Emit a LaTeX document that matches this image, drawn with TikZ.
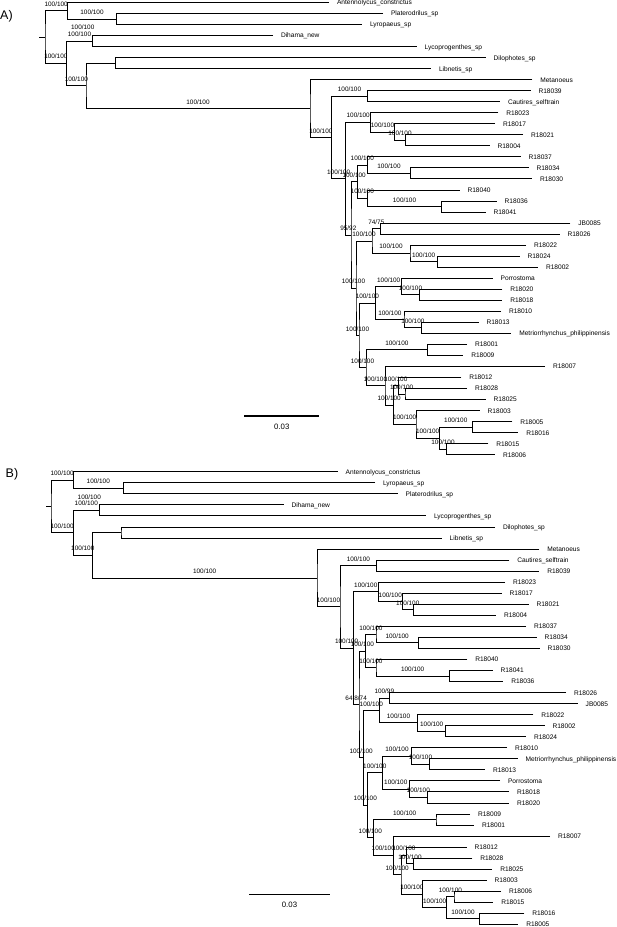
\documentclass[tikz,border=0pt]{standalone}
\usepackage{fontspec}
\setmainfont{Liberation Sans}
\usetikzlibrary{calc}
\tikzset{
 tree/.style={line width=1pt, line join=miter},
 bl/.style={font=\fontsize{6.4}{7}\selectfont, anchor=base, yshift=4.5pt, inner sep=0pt},
 tl/.style={font=\fontsize{6.6}{7}\selectfont, anchor=base west, xshift=7.8pt, yshift=-2.4pt, inner sep=0pt},
 panel/.style={font=\fontsize{12.5}{14}\selectfont, anchor=west, inner sep=0pt},
 sbar/.style={line width=1.1pt},
 stext/.style={font=\fontsize{7.8}{9}\selectfont, inner sep=0pt},
}
\newcommand\tbr[3]{\draw[tree] (#2) -| (#1) |- (#3);}
\newcommand\blab[3]{\node[bl] (#1l) at ($(#2 |- #1)!0.5!(#1)$) {#3};}
\newcommand\ttip[4]{\coordinate (#1) at (#2,#3); \node[tl] (#1n) at (#1) {#4};}
\newcommand\treeedges[1]{%
\tbr{#1R}{#1U}{#1L1}\tbr{#1U}{#1T1}{#1P}\tbr{#1P}{#1T2}{#1T3}
\tbr{#1L1}{#1D}{#1L2}\tbr{#1D}{#1T4}{#1T5}\tbr{#1L2}{#1Dl}{#1I0}
\tbr{#1Dl}{#1T6}{#1T7}\tbr{#1I0}{#1T8}{#1I1}\tbr{#1I1}{#1C1}{#1I2}
\tbr{#1C1}{#1T9}{#1T10}\tbr{#1I2}{#1X}{#1W}\tbr{#1X}{#1T11}{#1X2}
\tbr{#1X2}{#1T12}{#1X3}\tbr{#1X3}{#1T13}{#1T14}\tbr{#1W}{#1Y}{#1Z}
\tbr{#1Y}{#1Y1}{#1Y2}\tbr{#1Y1}{#1T15}{#1Y1b}\tbr{#1Y1b}{#1T16}{#1T17}
\tbr{#1Y2}{#1T18}{#1Y2b}\tbr{#1Y2b}{#1T19}{#1T20}\tbr{#1Z}{#1Z1}{#1Z2}
\tbr{#1Z1}{#1Za}{#1Zb}\tbr{#1Za}{#1T21}{#1T22}\tbr{#1Zb}{#1T23}{#1Zb2}
\tbr{#1Zb2}{#1T24}{#1T25}\tbr{#1Z2}{#1Z2a}{#1Z2b}\tbr{#1Z2a}{#1Z2a1}{#1Z2a2}
\tbr{#1Z2a1}{#1T26}{#1Z2a1i}\tbr{#1Z2a1i}{#1T27}{#1T28}
\tbr{#1Z2a2}{#1T29}{#1Z2a2i}\tbr{#1Z2a2i}{#1T30}{#1T31}
\tbr{#1Z2b}{#1Z2b1}{#1Z2c}\tbr{#1Z2b1}{#1T32}{#1T33}\tbr{#1Z2c}{#1T34}{#1Z2d}
\tbr{#1Z2d}{#1Z2e}{#1Z2f}\tbr{#1Z2e}{#1T35}{#1Z2ei}\tbr{#1Z2ei}{#1T36}{#1T37}
\tbr{#1Z2f}{#1T38}{#1Z2g}\tbr{#1Z2g}{#1Z2g1}{#1Z2g2}
\tbr{#1Z2g1}{#1T39}{#1T40}\tbr{#1Z2g2}{#1T41}{#1T42}
\draw[tree] (#1R) -- (#1Rt);}
\newcommand\treelabels[3]{%
\blab{#1U}{#1R}{100/100}\blab{#1P}{#1U}{100/100}\blab{#1L1}{#1R}{100/100}
\blab{#1D}{#1L1}{100/100}\blab{#1L2}{#1L1}{100/100}\blab{#1Dl}{#1L2}{100/100}
\blab{#1I0}{#1L2}{100/100}\blab{#1I1}{#1I0}{100/100}\blab{#1C1}{#1I1}{100/100}
\blab{#1I2}{#1I1}{100/100}\blab{#1X}{#1I2}{100/100}\blab{#1X2}{#1X}{100/100}
\blab{#1X3}{#1X2}{100/100}\blab{#1W}{#1I2}{#3}\blab{#1Y}{#1W}{100/100}
\blab{#1Y1}{#1Y}{100/100}\blab{#1Y1b}{#1Y1}{100/100}\blab{#1Y2}{#1Y}{100/100}
\blab{#1Y2b}{#1Y2}{100/100}\blab{#1Z}{#1W}{100/100}\blab{#1Z1}{#1Z}{100/100}
\blab{#1Za}{#1Z1}{#2}\blab{#1Zb}{#1Z1}{100/100}\blab{#1Zb2}{#1Zb}{100/100}
\blab{#1Z2}{#1Z}{100/100}\blab{#1Z2a}{#1Z2}{100/100}\blab{#1Z2a1}{#1Z2a}{100/100}
\blab{#1Z2a1i}{#1Z2a1}{100/100}\blab{#1Z2a2}{#1Z2a}{100/100}
\blab{#1Z2a2i}{#1Z2a2}{100/100}\blab{#1Z2b}{#1Z2}{100/100}
\blab{#1Z2b1}{#1Z2b}{100/100}\blab{#1Z2c}{#1Z2b}{100/100}
\blab{#1Z2d}{#1Z2c}{100/100}\blab{#1Z2e}{#1Z2d}{100/100}
\blab{#1Z2ei}{#1Z2e}{100/100}\blab{#1Z2f}{#1Z2d}{100/100}
\blab{#1Z2g}{#1Z2f}{100/100}\blab{#1Z2g1}{#1Z2g}{100/100}
\blab{#1Z2g2}{#1Z2g}{100/100}}
\begin{document}
\begin{tikzpicture}[x=1pt,y=-1pt]
\useasboundingbox (0,0) rectangle (617,927);
\node[panel] (labA) at (0,16.7) {A)};
\node[panel] (labB) at (5.5,474) {B)};
% ---------------- Tree A ----------------
\begin{scope}[x=1pt,y=-11.03pt,yshift=8.53pt]
\ttip{aT1}{329}{1}{Antennolycus\_constrictus}
\ttip{aT2}{383}{2}{Platerodrilus\_sp}
\ttip{aT3}{362}{3}{Lyropaeus\_sp}
\ttip{aT4}{273}{4}{Dihama\_new}
\ttip{aT5}{416.7}{5}{Lycoprogenthes\_sp}
\ttip{aT6}{485.7}{6}{Dilophotes\_sp}
\ttip{aT7}{431}{7}{Libnetis\_sp}
\ttip{aT8}{532.3}{8}{Metanoeus}
\ttip{aT9}{530.5}{9}{R18039}
\ttip{aT10}{500}{10}{Cautires\_selftrain}
\ttip{aT11}{498.3}{11}{R18023}
\ttip{aT12}{495}{12}{R18017}
\ttip{aT13}{523}{13}{R18021}
\ttip{aT14}{489.5}{14}{R18004}
\ttip{aT15}{520.7}{15}{R18037}
\ttip{aT16}{528.5}{16}{R18034}
\ttip{aT17}{532}{17}{R18030}
\ttip{aT18}{459.5}{18}{R18040}
\ttip{aT19}{496.7}{19}{R18036}
\ttip{aT20}{485.5}{20}{R18041}
\ttip{aT21}{570.3}{21}{JB0085}
\ttip{aT22}{559.5}{22}{R18026}
\ttip{aT23}{526}{23}{R18022}
\ttip{aT24}{519.5}{24}{R18024}
\ttip{aT25}{538}{25}{R18002}
\ttip{aT26}{492.7}{26}{Porrostoma}
\ttip{aT27}{502.3}{27}{R18020}
\ttip{aT28}{502.3}{28}{R18018}
\ttip{aT29}{501}{29}{R18010}
\ttip{aT30}{478.5}{30}{R18013}
\ttip{aT31}{511.3}{31}{Metriorrhynchus\_philippinensis}
\ttip{aT32}{467}{32}{R18001}
\ttip{aT33}{463.3}{33}{R18009}
\ttip{aT34}{545}{34}{R18007}
\ttip{aT35}{461.3}{35}{R18012}
\ttip{aT36}{467}{36}{R18028}
\ttip{aT37}{485.7}{37}{R18025}
\ttip{aT38}{479.7}{38}{R18003}
\ttip{aT39}{512.3}{39}{R18005}
\ttip{aT40}{518.3}{40}{R18016}
\ttip{aT41}{488.3}{41}{R18015}
\ttip{aT42}{495}{42}{R18006}
\coordinate (aR) at (45,4.14);
\coordinate (aRt) at (39,4.14);
\coordinate (aU) at (67.3,1.75);
\coordinate (aP) at (116.7,2.5);
\coordinate (aL1) at (66.7,6.53);
\coordinate (aD) at (92.3,4.5);
\coordinate (aL2) at (86,8.56);
\coordinate (aDl) at (115.7,6.5);
\coordinate (aI0) at (310,10.62);
\coordinate (aI1) at (331.7,13.24);
\coordinate (aC1) at (367.3,9.5);
\coordinate (aI2) at (345.7,16.98);
\coordinate (aX) at (370.7,11.875);
\coordinate (aX2) at (394.3,12.75);
\coordinate (aX3) at (405.7,13.5);
\coordinate (aW) at (351,22.08);
\coordinate (aY) at (357.3,17.25);
\coordinate (aY1) at (367.3,15.75);
\coordinate (aY1b) at (410.7,16.5);
\coordinate (aY2) at (367.3,18.75);
\coordinate (aY2b) at (441.7,19.5);
\coordinate (aZ) at (356,26.9);
\coordinate (aZ1) at (372,22.625);
\coordinate (aZa) at (380.7,21.5);
\coordinate (aZb) at (410,23.75);
\coordinate (aZb2) at (437.3,24.5);
\coordinate (aZ2) at (359,31.19);
\coordinate (aZ2a) at (375.7,28.25);
\coordinate (aZ2a1) at (401.7,26.75);
\coordinate (aZ2a1i) at (419.3,27.5);
\coordinate (aZ2a2) at (404,29.75);
\coordinate (aZ2a2i) at (421.7,30.5);
\coordinate (aZ2b) at (366,34.125);
\coordinate (aZ2b1) at (427.7,32.5);
\coordinate (aZ2c) at (385,35.75);
\coordinate (aZ2d) at (393.3,37.5);
\coordinate (aZ2e) at (398.3,35.75);
\coordinate (aZ2ei) at (405,36.5);
\coordinate (aZ2f) at (416,39.25);
\coordinate (aZ2g) at (439.3,40.5);
\coordinate (aZ2g1) at (472.3,39.5);
\coordinate (aZ2g2) at (446.7,41.5);
\treeedges{a}
\treelabels{a}{74/75}{95/92}
\end{scope}
% ---------------- Tree B ----------------
\begin{scope}[x=1pt,y=-11.04pt,yshift=-460.76pt]
\ttip{bT1}{337.7}{1}{Antennolycus\_constrictus}
\ttip{bT2}{375}{2}{Lyropaeus\_sp}
\ttip{bT3}{397.7}{3}{Platerodrilus\_sp}
\ttip{bT4}{283.5}{4}{Dihama\_new}
\ttip{bT5}{426}{5}{Lycoprogenthes\_sp}
\ttip{bT6}{495}{6}{Dilophotes\_sp}
\ttip{bT7}{441.7}{7}{Libnetis\_sp}
\ttip{bT8}{539.3}{8}{Metanoeus}
\ttip{bT9}{509.3}{9}{Cautires\_selftrain}
\ttip{bT10}{539.3}{10}{R18039}
\ttip{bT11}{505}{11}{R18023}
\ttip{bT12}{501.7}{12}{R18017}
\ttip{bT13}{528.5}{13}{R18021}
\ttip{bT14}{496}{14}{R18004}
\ttip{bT15}{526}{15}{R18037}
\ttip{bT16}{536.7}{16}{R18034}
\ttip{bT17}{539.5}{17}{R18030}
\ttip{bT18}{467.3}{18}{R18040}
\ttip{bT19}{492.7}{19}{R18041}
\ttip{bT20}{503.3}{20}{R18036}
\ttip{bT21}{566}{21}{R18026}
\ttip{bT22}{577.7}{22}{JB0085}
\ttip{bT23}{533.3}{23}{R18022}
\ttip{bT24}{544.5}{24}{R18002}
\ttip{bT25}{526}{25}{R18024}
\ttip{bT26}{507}{26}{R18010}
\ttip{bT27}{517.7}{27}{Metriorrhynchus\_philippinensis}
\ttip{bT28}{485}{28}{R18013}
\ttip{bT29}{500}{29}{Porrostoma}
\ttip{bT30}{509}{30}{R18018}
\ttip{bT31}{509}{31}{R18020}
\ttip{bT32}{470}{32}{R18009}
\ttip{bT33}{474}{33}{R18001}
\ttip{bT34}{550}{34}{R18007}
\ttip{bT35}{466.7}{35}{R18012}
\ttip{bT36}{472.3}{36}{R18028}
\ttip{bT37}{492.3}{37}{R18025}
\ttip{bT38}{486.7}{38}{R18003}
\ttip{bT39}{501}{39}{R18006}
\ttip{bT40}{493.3}{40}{R18015}
\ttip{bT41}{524.3}{41}{R18016}
\ttip{bT42}{518.3}{42}{R18005}
\coordinate (bR) at (51,4.14);
\coordinate (bRt) at (46,4.14);
\coordinate (bU) at (73.3,1.75);
\coordinate (bP) at (123.3,2.5);
\coordinate (bL1) at (73.3,6.53);
\coordinate (bD) at (99.3,4.5);
\coordinate (bL2) at (92.3,8.56);
\coordinate (bDl) at (121,6.5);
\coordinate (bI0) at (317,10.62);
\coordinate (bI1) at (340,13.24);
\coordinate (bC1) at (376.7,9.5);
\coordinate (bI2) at (353.3,16.98);
\coordinate (bX) at (378.3,11.875);
\coordinate (bX2) at (402.3,12.75);
\coordinate (bX3) at (413.3,13.5);
\coordinate (bW) at (359,22.08);
\coordinate (bY) at (365.7,17.25);
\coordinate (bY1) at (376,15.75);
\coordinate (bY1b) at (418.3,16.5);
\coordinate (bY2) at (376,18.75);
\coordinate (bY2b) at (449.3,19.5);
\coordinate (bZ) at (363.3,26.9);
\coordinate (bZ1) at (379.3,22.625);
\coordinate (bZa) at (389.3,21.5);
\coordinate (bZb) at (417.7,23.75);
\coordinate (bZb2) at (445.7,24.5);
\coordinate (bZ2) at (367.3,31.19);
\coordinate (bZ2a) at (382.3,28.25);
\coordinate (bZ2a1) at (411.7,26.75);
\coordinate (bZ2a1i) at (429.3,27.5);
\coordinate (bZ2a2) at (409.3,29.75);
\coordinate (bZ2a2i) at (427.3,30.5);
\coordinate (bZ2b) at (373.3,34.125);
\coordinate (bZ2b1) at (436,32.5);
\coordinate (bZ2c) at (393.3,35.75);
\coordinate (bZ2d) at (401,37.5);
\coordinate (bZ2e) at (406.7,35.75);
\coordinate (bZ2ei) at (413.3,36.5);
\coordinate (bZ2f) at (422.7,39.25);
\coordinate (bZ2g) at (446.7,40.5);
\coordinate (bZ2g1) at (454,39.5);
\coordinate (bZ2g2) at (479.3,41.5);
\treeedges{b}
\treelabels{b}{100/99}{64.8/74}
\end{scope}
% ---------------- scale bars ----------------
\coordinate (aS1) at (244.3,416);
\coordinate (aS2) at (319.3,416);
\draw[sbar] (aS1) -- (aS2);
\node[stext] (aSt) at (281.8,426.7) {0.03};
\coordinate (bS1) at (249,894.3);
\coordinate (bS2) at (330,894.3);
\draw[sbar] (bS1) -- (bS2);
\node[stext] (bSt) at (289.5,905) {0.03};
\end{tikzpicture}
\end{document}
